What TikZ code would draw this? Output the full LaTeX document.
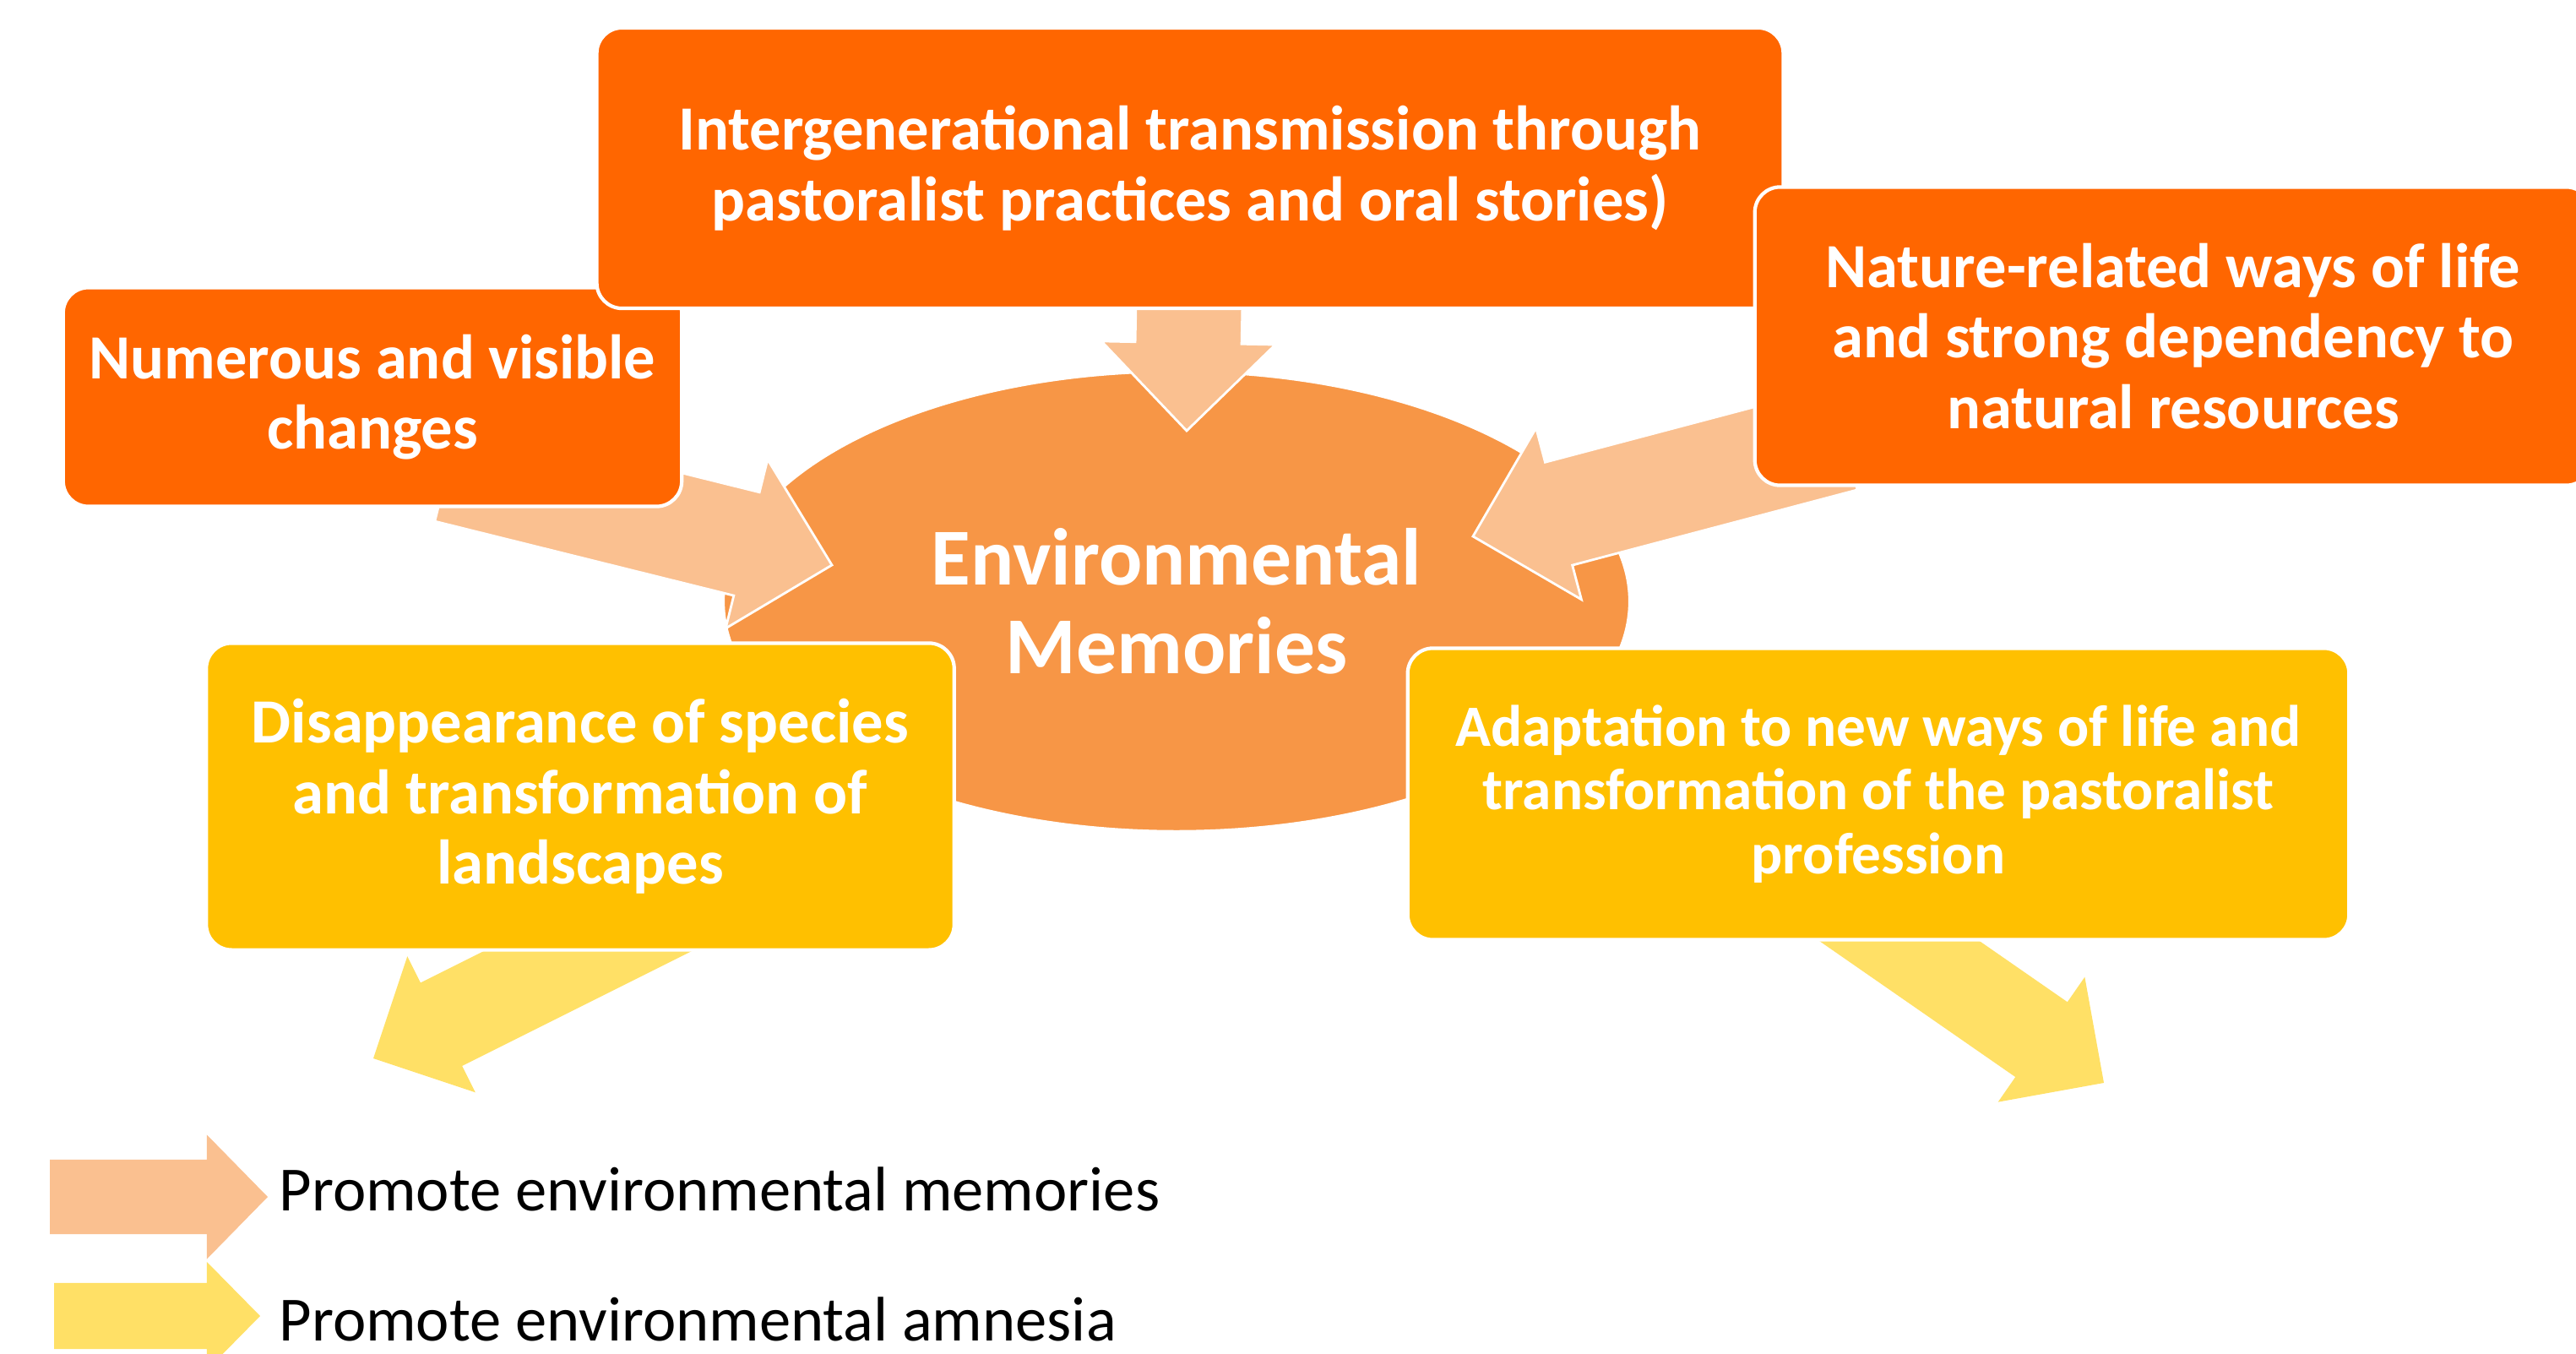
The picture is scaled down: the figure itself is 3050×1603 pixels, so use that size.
\documentclass[tikz,border=0pt]{standalone}
\usepackage{fontspec}
\setmainfont{Carlito}
\usetikzlibrary{calc,shapes.geometric}

\definecolor{boxorange}{HTML}{FF6600}
\definecolor{boxyellow}{HTML}{FFC000}
\definecolor{memorange}{HTML}{F79646}
\definecolor{peach}{HTML}{FAC090}
\definecolor{paleyellow}{HTML}{FFE066}

% block arrow: style, tail, tip, half shaft, half head, head length
\newcommand{\blockarrow}[6]{%
  \path ($(#3)!#6!(#2)$) coordinate (headbase);
  \path[#1] ($(#2)!#4!90:(#3)$) -- ($(headbase)!#4!90:(#3)$) -- ($(headbase)!#5!90:(#3)$) -- (#3)
    -- ($(headbase)!#5!-90:(#3)$) -- ($(headbase)!#4!-90:(#3)$) -- ($(#2)!#4!-90:(#3)$) -- cycle;}

\begin{document}
\begin{tikzpicture}[x=0.01cm,y=-0.01cm,
        orangebox/.style={rectangle,rounded corners=0.3cm,fill=boxorange,draw=white,line width=1.2pt,
            text=white,font=\bfseries\fontsize{21.2}{23.7}\selectfont,align=center,inner sep=0pt},
        yellowbox/.style={orangebox,fill=boxyellow},
        memory/.style={ellipse,fill=memorange,draw=white,line width=0.8pt,text=white,
            font=\bfseries\fontsize{27.2}{30}\selectfont,align=center,inner sep=0pt},
        promote/.style={fill=peach,draw=white,line width=0.8pt},
        amnesia/.style={fill=paleyellow},
        legendtxt/.style={anchor=base west,inner sep=0pt,font=\fontsize{21.2}{25}\selectfont}]

    \useasboundingbox (0,0) rectangle (3050,1603);

    \node[memory,minimum width=10.72cm,minimum height=5.44cm] (mem) at (1393,712) {Environmental\\Memories};

    % arrow ends
    \coordinate (gentail) at (1408,360);
    \coordinate (gentip) at (1405,510);
    \coordinate (numtail) at (530,556);
    \coordinate (numtip) at (985,669);
    \coordinate (natail) at (2183,519);
    \coordinate (natip) at (1744,635);
    \coordinate (distail) at (800,1074);
    \coordinate (distip) at (442,1253);
    \coordinate (adtail) at (2122,1026);
    \coordinate (adtip) at (2491,1282);

    \blockarrow{promote}{gentail}{gentip}{0.63cm}{1.03cm}{1.04cm}
    \blockarrow{promote}{numtail}{numtip}{0.63cm}{1.03cm}{1.04cm}
    \blockarrow{promote}{natail}{natip}{0.63cm}{1.05cm}{1.05cm}
    \blockarrow{amnesia}{distail}{distip}{0.55cm}{0.90cm}{0.90cm}
    \blockarrow{amnesia}{adtail}{adtip}{0.54cm}{0.90cm}{0.90cm}

    \node[orangebox,minimum width=7.32cm,minimum height=2.59cm] (num) at (441,470)
        {Numerous and visible\\changes};
    \node[orangebox,minimum width=14.04cm,minimum height=3.32cm] (gen) at (1409,199)
        {Intergenerational transmission through\\pastoralist practices and oral stories)};
    \node[orangebox,minimum width=9.9cm,minimum height=3.53cm] (nat) at (2573,398)
        {Nature-related ways of life\\and strong dependency to\\natural resources};
    \node[yellowbox,minimum width=8.85cm,minimum height=3.63cm] (dis) at (687,943)
        {Disappearance of species\\and transformation of\\landscapes};
    \node[yellowbox,minimum width=11.14cm,minimum height=3.45cm,
        font=\bfseries\fontsize{19.7}{21.5}\selectfont] (adapt) at (2224,940)
        {Adaptation to new ways of life and\\transformation of the pastoralist\\profession};

    % legend
    \coordinate (keyatail) at (59,1417);
    \coordinate (keyatip) at (317,1417);
    \coordinate (keybtail) at (64,1558);
    \coordinate (keybtip) at (308,1558);
    \blockarrow{fill=peach}{keyatail}{keyatip}{0.44cm}{0.735cm}{0.72cm}
    \blockarrow{amnesia}{keybtail}{keybtip}{0.39cm}{0.64cm}{0.63cm}
    \node[legendtxt] (keya) at (330,1433) {Promote environmental memories};
    \node[legendtxt] (keyb) at (330,1587) {Promote environmental amnesia};

\end{tikzpicture}
\end{document}
